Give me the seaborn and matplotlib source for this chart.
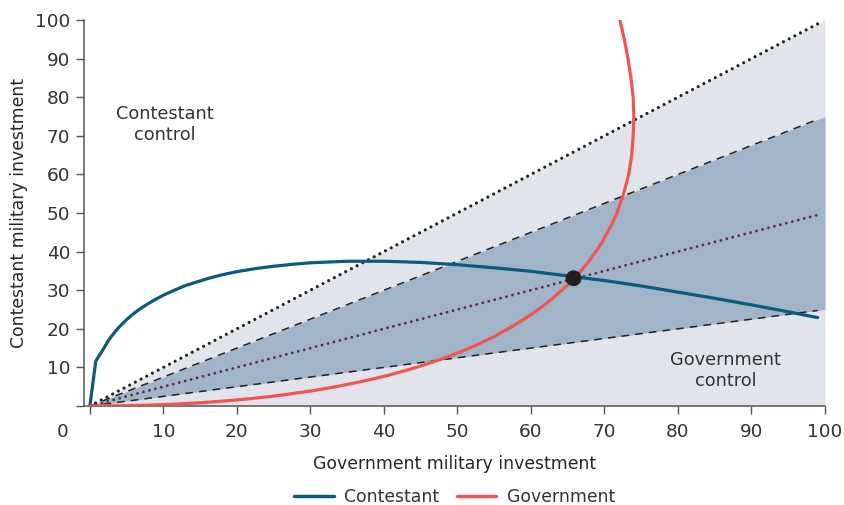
import matplotlib
matplotlib.use("Agg")
import matplotlib.pyplot as plt
import seaborn as sns
import pandas as pd
from matplotlib.lines import Line2D

# ---------- data ----------
# contestant best response (y as a function of government investment x)
contestant_x = [0, 0.8, 1.2, 1.6, 2, 2.5, 3, 3.5, 4, 5, 6, 7, 8, 9, 10, 11.5,
                13, 14.5, 16, 18, 20, 22.5, 25, 27.5, 30, 32.5, 35, 37.5, 40,
                45, 50, 55, 60, 65, 70, 75, 80, 85, 90, 95, 99]
contestant_y = [0, 11.6, 12.9, 14.0, 15.3, 16.9, 18.2, 19.4, 20.5, 22.4, 24.0,
                25.4, 26.6, 27.7, 28.7, 30.0, 31.2, 32.1, 33.0, 34.0, 34.8,
                35.6, 36.2, 36.7, 37.1, 37.3, 37.5, 37.5, 37.5, 37.2, 36.6,
                35.8, 34.9, 33.7, 32.5, 31.1, 29.5, 27.9, 26.2, 24.4, 22.9]

# government best response (x as a function of contestant investment y)
government_y = [0, 0.1, 0.25, 0.5, 0.75, 1, 1.5, 2, 2.5, 3, 4, 5, 6, 7, 8, 10,
                12, 14, 16, 18, 20, 22.5, 25, 27.5, 30, 32.5, 35, 37.5, 40,
                42.5, 45, 47.5, 50, 55, 60, 65, 70, 75, 80, 85, 90, 95, 100]
government_x = [0, 5.3, 8.4, 11.7, 14.2, 16.2, 19.6, 22.3, 24.7, 26.8, 30.4,
                33.5, 36.1, 38.5, 40.7, 44.4, 47.6, 50.4, 52.8, 55.0, 56.9,
                59.1, 61.0, 62.7, 64.2, 65.6, 66.8, 67.9, 68.8, 69.7, 70.4,
                71.1, 71.7, 72.6, 73.3, 73.7, 73.9, 74.0, 73.9, 73.6, 73.2,
                72.7, 72.1]

# shaded regions
region_x = [0, 100]
light_top = [0, 100]
dark_top = [0, 75]
dark_bottom = [0, 25]

# reference lines
ref_x = [0, 99]
line_full = [0, 99]
line_upper = [0, 74.25]
line_half = [0, 49.5]
line_lower = [0, 24.75]

# equilibrium
eq_x = [65.8]
eq_y = [33.1]

ticks = [0, 10, 20, 30, 40, 50, 60, 70, 80, 90, 100]
tick_labels = ["", "10", "20", "30", "40", "50", "60", "70", "80", "90", "100"]

BLUE = "#0c5a7c"
RED = "#ef5552"
LIGHT = "#e1e5eb"
DARK = "#a2b4c8"
PURPLE = "#5c2c4a"
INK = "#222222"

sns.set_style("white")
plt.rcParams["font.family"] = ["DejaVu Sans"]
plt.rcParams["text.color"] = "#333333"

fig = plt.figure(figsize=(8.45, 5.05), dpi=100)
ax = fig.add_axes([84 / 845, 1 - 406 / 505, (825 - 84) / 845, (406 - 20) / 505])

# ---------- regions ----------
ax.fill_between(region_x, [0, 0], light_top, color=LIGHT, lw=0, zorder=1)
ax.fill_between(region_x, dark_bottom, dark_top, color=DARK, lw=0, zorder=2)

# ---------- reference lines ----------
lines = pd.DataFrame({"x": ref_x, "full": line_full, "upper": line_upper,
                      "half": line_half, "lower": line_lower})
sns.lineplot(data=lines, x="x", y="full", ax=ax, color=INK, lw=2.3,
             linestyle=(0, (0.01, 2.0)), dash_capstyle="round", zorder=3)
sns.lineplot(data=lines, x="x", y="upper", ax=ax, color=INK, lw=1.1,
             linestyle=(0, (5, 4)), zorder=3)
sns.lineplot(data=lines, x="x", y="lower", ax=ax, color=INK, lw=1.1,
             linestyle=(0, (5, 4)), zorder=3)
sns.lineplot(data=lines, x="x", y="half", ax=ax, color=PURPLE, lw=2.1,
             linestyle=(0, (0.01, 2.1)), dash_capstyle="round", zorder=3)

# ---------- best response curves ----------
sns.lineplot(x=contestant_x, y=contestant_y, ax=ax, color=BLUE, lw=2.3,
             sort=False, estimator=None, zorder=4)
sns.lineplot(x=government_x, y=government_y, ax=ax, color=RED, lw=2.3,
             sort=False, estimator=None, zorder=4)

sns.scatterplot(x=eq_x, y=eq_y, ax=ax, color="#231f20", s=130,
                edgecolor="none", zorder=5)

# ---------- labels ----------
ax.text(10.2, 73, "Contestant\ncontrol", ha="center", va="center",
        fontsize=12.8, linespacing=1.2)
ax.text(86.5, 9.3, "Government\ncontrol", ha="center", va="center",
        fontsize=12.8, linespacing=1.2)

ax.set_xlim(-0.8, 100)
ax.set_ylim(0, 100)
ax.set_xticks(ticks)
ax.set_xticklabels(tick_labels)
ax.set_yticks(ticks)
ax.set_yticklabels(tick_labels)
ax.tick_params(axis="both", direction="out", length=6, width=1,
               color="#555555", labelsize=13.3, labelcolor="#333333", pad=4,
               bottom=True, left=True)
ax.tick_params(axis="x", pad=6)
ax.annotate("0", xy=(0, 0), xycoords="axes fraction", xytext=(-21, -26),
            textcoords="offset pixels", ha="center", va="center",
            fontsize=13.3, color="#333333")

for side in ["top", "right"]:
    ax.spines[side].set_visible(False)
for side in ["left", "bottom"]:
    ax.spines[side].set_color("#555555")
    ax.spines[side].set_linewidth(1.1)

ax.set_xlabel("Government military investment", fontsize=12.4, labelpad=10)
ax.set_ylabel("Contestant military investment", fontsize=12.4, labelpad=5)

handles = [Line2D([], [], color=BLUE, lw=2.5), Line2D([], [], color=RED, lw=2.5)]
fig.legend(handles, ["Contestant", "Government"], loc="center",
           bbox_to_anchor=(0.538, 0.016), ncol=2, frameon=False, fontsize=12.4,
           handlelength=2.3, handletextpad=0.6, columnspacing=1.0)

fig.savefig("out.png", dpi=100)
